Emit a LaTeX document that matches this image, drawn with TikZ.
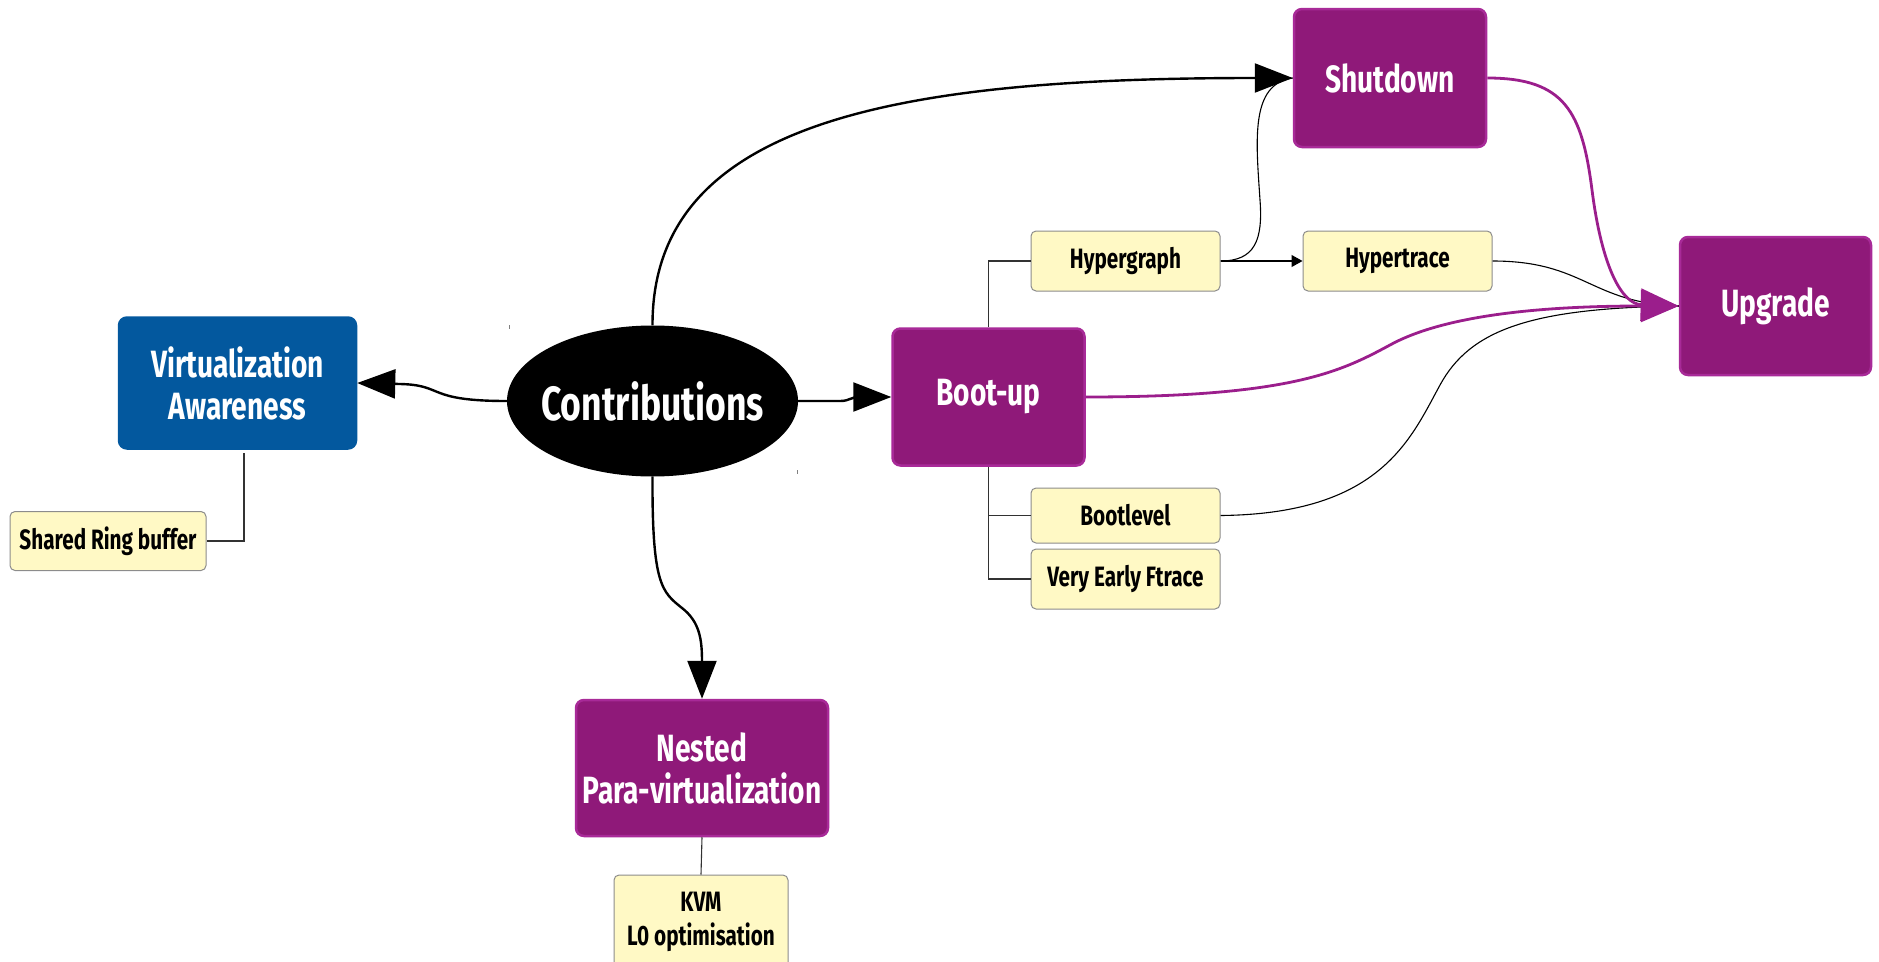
\documentclass[tikz,border=0pt]{standalone}
\usepackage{fontspec}
\setmainfont{Fira Sans}[FakeStretch=0.74]
\usetikzlibrary{arrows.meta,shapes.geometric}

\definecolor{vablue}{RGB}{3,88,158}
\definecolor{plum}{RGB}{143,25,121}
\definecolor{plumedge}{RGB}{168,42,152}
\definecolor{plumline}{RGB}{155,30,140}
\definecolor{notefill}{RGB}{255,249,197}
\definecolor{noteedge}{RGB}{140,140,140}
\definecolor{treeline}{RGB}{50,50,50}

\tikzset{
  topic/.style={rectangle, rounded corners=8pt, fill=plum, draw=plumedge, line width=2.5pt,
    text=white, align=center, inner sep=0pt, font=\bfseries\fontsize{38}{42}\selectfont},
  bluetopic/.style={topic, fill=vablue, draw=vablue},
  note/.style={rectangle, rounded corners=5pt, fill=notefill, draw=noteedge, line width=1pt,
    text=black, align=center, inner sep=0pt, font=\bfseries\fontsize{28}{34}\selectfont},
  hub/.style={ellipse, fill=black, inner sep=0pt},
  hubtext/.style={inner sep=0pt, text=white, font=\bfseries\fontsize{48}{56}\selectfont},
  bigarrow/.style={draw=black, line width=2.4pt, -{Triangle[length=38pt,width=29pt]}},
  plumarrow/.style={draw=plumline, line width=2.8pt, -{Triangle[length=38pt,width=32pt]}},
  thinlink/.style={draw=black, line width=1.1pt},
  treelink/.style={draw=treeline, line width=1.1pt},
  smallarrow/.style={thinlink, -{Triangle[length=11pt,width=12pt]}},
}

\begin{document}
\begin{tikzpicture}[x=1pt,y=-1pt]
\useasboundingbox (0,0) rectangle (1879,961);

% main nodes
\node[hub, minimum width=291pt, minimum height=151pt] (con) at (652.5,401) {};
\node[hubtext] (contitle) at (con.center) {Contributions};
\node[bluetopic, minimum width=237pt, minimum height=131pt] (va) at (237.5,383) {Virtualization\\Awareness};
\node[topic, minimum width=192pt, minimum height=137pt] (boot) at (988.5,397) {Boot-up};
\node[topic, minimum width=192pt, minimum height=138pt] (shut) at (1390,78) {Shutdown};
\node[topic, minimum width=191pt, minimum height=138pt] (up) at (1775.5,306) {Upgrade};
\node[topic, minimum width=252pt, minimum height=136pt] (nest) at (702,768) {Nested\\Para-virtualization};

% detail notes
\node[note, minimum width=196pt, minimum height=59pt] (srb) at (108,541) {Shared Ring buffer};
\node[note, minimum width=189pt, minimum height=60pt] (hg) at (1125.5,261) {Hypergraph};
\node[note, minimum width=189pt, minimum height=60pt] (ht) at (1397.5,261) {Hypertrace};
\node[note, minimum width=189pt, minimum height=55pt] (bl) at (1125.5,515.5) {Bootlevel};
\node[note, minimum width=189pt, minimum height=60pt] (vef) at (1125.5,579) {Very Early Ftrace};
\node[note, minimum width=174pt, minimum height=94pt] (kvm) at (701,922) {KVM\\L0 optimisation};

% small marks at the hub's corners
\coordinate (markA) at (509.5,325);
\coordinate (markB) at (797.5,470);
\draw[gray, line width=1pt] (markA) -- ++(0,4);
\draw[gray, line width=1pt] (markB) -- ++(0,4);

% tree links
\coordinate (vatail) at (244,453);
\draw[treelink] (vatail) |- (srb.east);
\draw[treelink] (boot.north) |- (hg.west);
\draw[treelink] (boot.south) |- (bl.west);
\draw[treelink] (boot.south) |- (vef.west);
\draw[treelink] (nest.south) -- (kvm.north);

% thin links
\draw[smallarrow] (hg.east) -- (ht.west);
\draw[thinlink] (hg.east) .. controls (1255,261) and (1263,240) .. (1260,200)
  .. controls (1256,140) and (1250,84) .. (shut.west);
\draw[thinlink] (ht.east) .. controls (1585,261) and (1590,303) .. (up.west);
\draw[thinlink] (bl.east) .. controls (1380,514) and (1410,440) .. (1440,385)
  .. controls (1470,330) and (1530,308) .. (up.west);

% thick links from the hub
\draw[bigarrow] (con.west) .. controls (425,401) and (445,385) .. (400,384) -- (va.east);
\draw[bigarrow] (con.east) -- (840,401) .. controls (850,401) and (850,397) .. (860,397) -- (boot.west);
\draw[bigarrow] (con.north) .. controls (652,120) and (900,78) .. (1255,78) -- (shut.west);
\draw[bigarrow] (con.south) .. controls (652,585) and (662,592) .. (682,608)
  .. controls (700,622) and (702,640) .. (702,662) -- (nest.north);

% purple links into Upgrade
\draw[plumarrow] (boot.east) .. controls (1290,397) and (1340,372) .. (1390,345)
  .. controls (1450,312) and (1560,306) .. (up.west);
\draw[plumarrow] (shut.east) .. controls (1565,78) and (1582,112) .. (1592,190)
  .. controls (1602,268) and (1622,304) .. (up.west);
\end{tikzpicture}
\end{document}
